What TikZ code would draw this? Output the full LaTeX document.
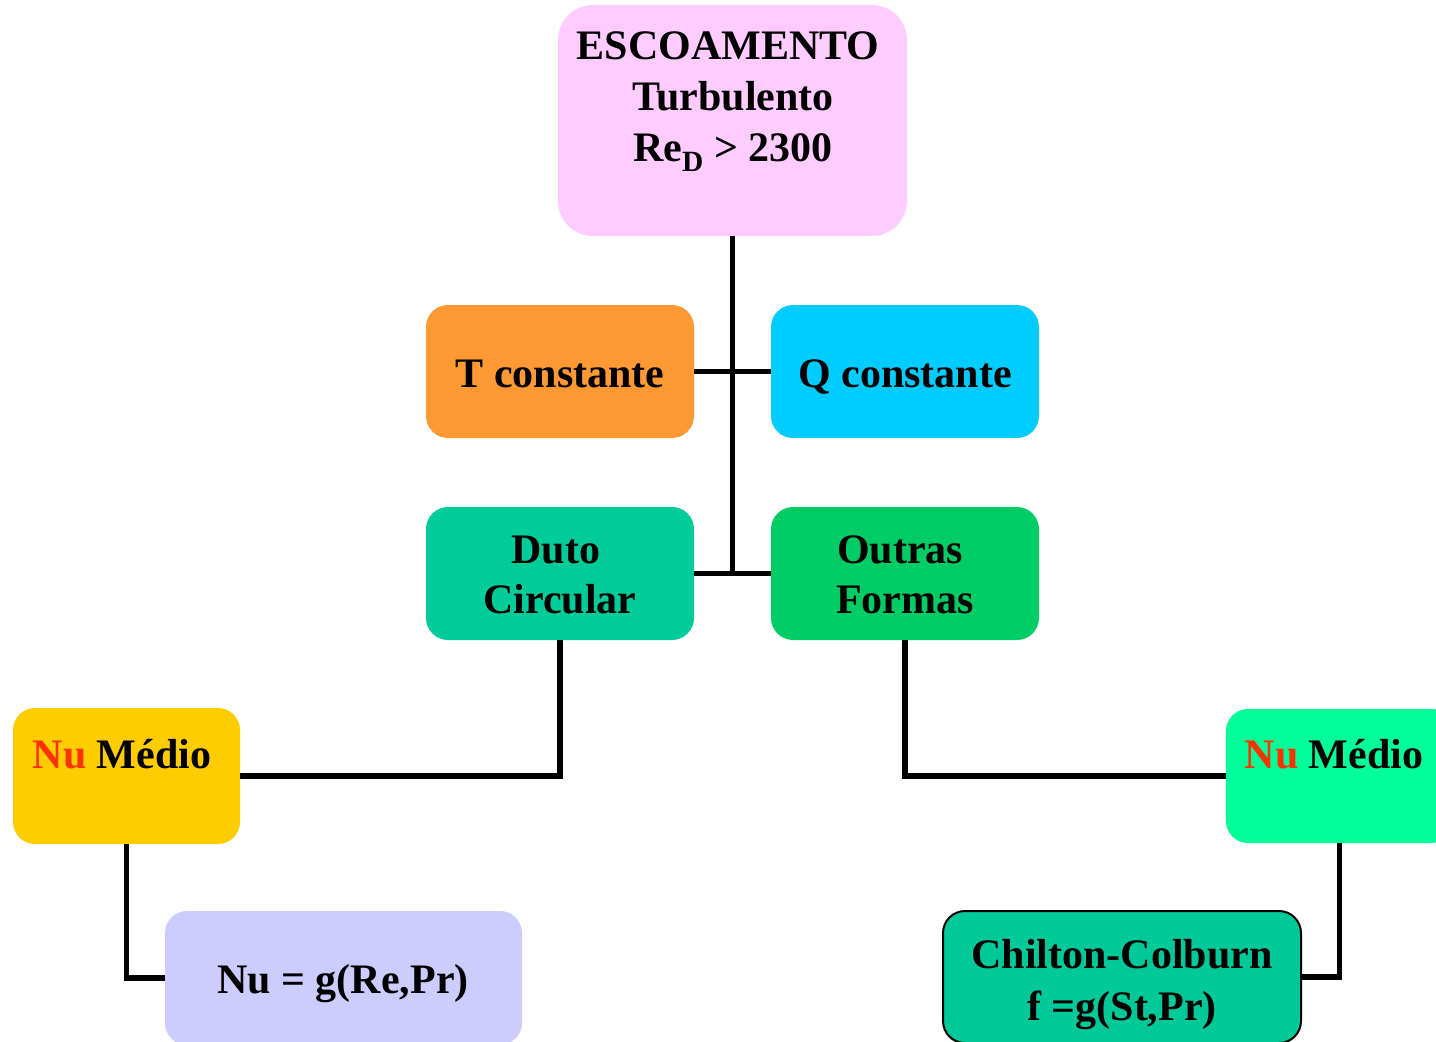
\documentclass[tikz,border=0pt]{standalone}
\usepackage{fontspec}
\setmainfont{Liberation Serif}
\definecolor{cpink}{HTML}{FFCCFF}
\definecolor{corange}{HTML}{FF9933}
\definecolor{ccyan}{HTML}{00CCFF}
\definecolor{cduto}{HTML}{00CC99}
\definecolor{coutras}{HTML}{00CC66}
\definecolor{cyel}{HTML}{FFCC00}
\definecolor{cmint}{HTML}{00FF99}
\definecolor{clav}{HTML}{CCCCFF}
\definecolor{cchil}{HTML}{00C999}
\definecolor{cred}{HTML}{FF3300}
\begin{document}
\begin{tikzpicture}[x=1pt,y=-1pt,
  box/.style={rectangle, rounded corners=22pt, inner sep=0pt, draw=none},
  txt/.style={anchor=base, inner sep=0pt, font=\fontsize{42}{50}\selectfont\bfseries},
  conn/.style={line width=5.5pt, line join=miter, black}]
\useasboundingbox (0,0) rectangle (1436,1042);
\clip (0,0) rectangle (1436,1042);
% boxes
\node[box, rounded corners=35pt, fill=cpink, minimum width=349pt, minimum height=231pt] (top) at (732.5,120.5) {};
\node[box, fill=corange, minimum width=268pt, minimum height=133pt] (tc) at (560,371.5) {};
\node[box, fill=ccyan, minimum width=268pt, minimum height=133pt] (qc) at (905,371.5) {};
\node[box, fill=cduto, minimum width=268pt, minimum height=133pt] (duto) at (560,573.5) {};
\node[box, fill=coutras, minimum width=268pt, minimum height=133pt] (outras) at (905,573.5) {};
\node[box, fill=cyel, minimum width=227pt, minimum height=136pt] (nuL) at (126.5,776) {};
\node[box, fill=cmint, minimum width=227pt, minimum height=134pt] (nuR) at (1339.5,776) {};
\node[box, fill=clav, minimum width=357pt, minimum height=134pt] (nug) at (343.5,978) {};
\node[box, fill=cchil, draw=black, line width=2pt, minimum width=358pt, minimum height=132pt] (chil) at (1122,977) {};
% texts
\node[txt] (t1) at (728,59) {ESCOAMENTO};
\node[txt] (t2) at (733,110) {Turbulento};
\node[txt] (t3) at (733,161) {Re\textsubscript{D} > 2300};
\node[txt] (ttc) at (560,387) {T constante};
\node[txt] (tqc) at (905,387) {Q constante};
\node[txt] (td1) at (556,563) {Duto};
\node[txt] (td2) at (560,613) {Circular};
\node[txt] (to1) at (900,563) {Outras};
\node[txt] (to2) at (905,613) {Formas};
\node[txt] (tnuL) at (122,768) {\textcolor{cred}{Nu} Médio};
\node[txt] (tnuR) at (1334,768) {\textcolor{cred}{Nu} Médio};
\node[txt] (tnug) at (343,993) {Nu = g(Re,Pr)};
\node[txt] (tch1) at (1122,968) {Chilton-Colburn};
\node[txt] (tch2) at (1122,1020) {f =g(St,Pr)};
% connectors
\draw[conn] (top.south) -- (top.south |- duto.east);
\draw[conn] (tc.east) -- (qc.west);
\draw[conn] (duto.east) -- (outras.west);
\draw[conn] (duto.south) |- (nuL.east);
\draw[conn] (outras.south) |- (nuR.west);
\draw[conn] (nuL.south) |- (nug.west);
\draw[conn] (nuR.south) |- (chil.east);
\end{tikzpicture}
\end{document}
